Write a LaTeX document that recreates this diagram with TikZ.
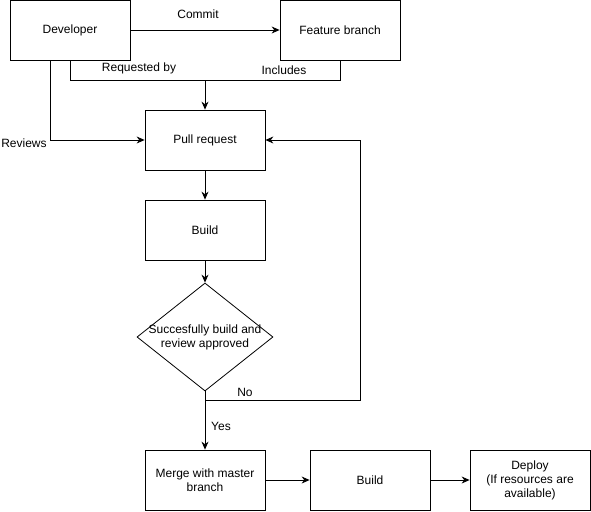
\documentclass[tikz,border=0pt]{standalone}
\usepackage{fontspec}
\setmainfont{Liberation Sans}
\usetikzlibrary{arrows.meta,shapes.geometric}
\begin{document}
\begin{tikzpicture}[x=1pt,y=-1pt,
  every node/.style={font=\fontsize{12}{14}\selectfont},
  box/.style={draw,line width=0.8pt,minimum width=120pt,minimum height=60pt,inner sep=0pt,align=center},
  conn/.style={line width=0.8pt},
  arr/.style={conn,-{Stealth[length=8pt,width=7pt]}},
  lbl/.style={inner sep=0pt,align=center}]
\useasboundingbox (0,0) rectangle (591,511);
\node[box] (dev) at (70,30) {Developer};
\node[box] (fb) at (340,30) {Feature branch};
\node[box] (pr) at (205,140) {Pull request};
\node[box] (b1) at (205,230) {Build};
\node[draw,line width=0.8pt,shape=diamond,minimum width=136pt,minimum height=108pt,inner sep=0pt] (dec) at (205,337) {};
\node[lbl] (dect) at (dec.center) {Succesfully build and\\review approved};
\node[box] (mg) at (205,480) {Merge with master\\branch};
\node[box] (b2) at (370,480) {Build};
\node[box] (dep) at (530,480) {Deploy\\(If resources are\\available)};
\coordinate (jn) at (205,80);
\coordinate (split) at (205,400);
\coordinate (noc) at (360,400);
\draw[arr] (dev) -- (fb);
\draw[conn] (dev.south) |- (jn);
\draw[conn] (fb.south) |- (jn);
\draw[arr] (jn) -- (pr.north);
\draw[arr] ([xshift=-20pt]dev.south) |- (pr.west);
\draw[arr] (pr) -- (b1);
\draw[arr] (b1) -- (dec.north);
\draw[conn] (dec.south) -- (split);
\draw[arr] (split) -- (noc) |- (pr.east);
\draw[arr] (split) -- (mg.north);
\draw[arr] (mg) -- (b2);
\draw[arr] (b2) -- (dep);
\node[lbl] (lcommit) at (198,14) {Commit};
\node[lbl] (lreq) at (139,68) {Requested by};
\node[lbl] (linc) at (284,70) {Includes};
\node[lbl] (lrev) at (24,143) {Reviews};
\node[lbl] (lno) at (245,392) {No};
\node[lbl] (lyes) at (221,426) {Yes};
\end{tikzpicture}
\end{document}
